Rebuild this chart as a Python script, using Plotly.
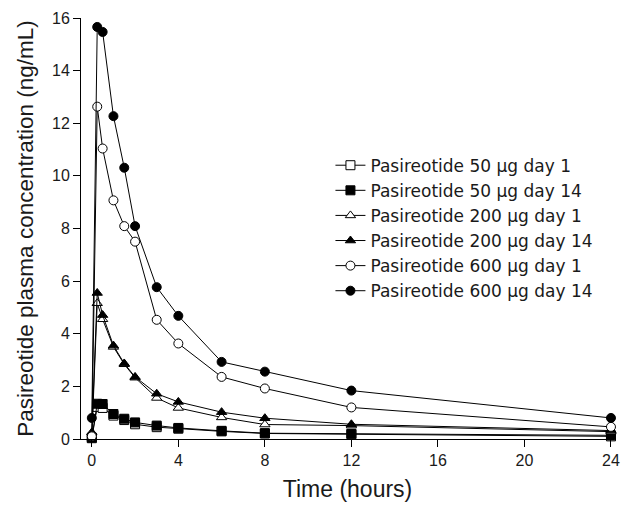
import plotly.graph_objects as go

time_h = [0, 0.25, 0.5, 1, 1.5, 2, 3, 4, 6, 8, 12, 24]

p50_d1 = [0.03, 1.22, 1.18, 0.89, 0.72, 0.56, 0.45, 0.39, 0.29, 0.21, 0.18, 0.10]
p50_d14 = [0.05, 1.34, 1.33, 0.95, 0.77, 0.63, 0.51, 0.42, 0.31, 0.22, 0.20, 0.14]
p200_d1 = [0.05, 5.16, 4.55, 3.50, 2.84, 2.33, 1.56, 1.18, 0.82, 0.55, 0.51, 0.28]
p200_d14 = [0.25, 5.55, 4.71, 3.55, 2.87, 2.36, 1.72, 1.41, 1.02, 0.79, 0.56, 0.32]
p600_d1 = [0.10, 12.63, 11.04, 9.07, 8.09, 7.50, 4.53, 3.63, 2.36, 1.92, 1.20, 0.46]
p600_d14 = [0.80, 15.66, 15.47, 12.27, 10.31, 8.09, 5.77, 4.68, 2.93, 2.56, 1.84, 0.80]

series = [
    ("Pasireotide 50 µg day 1", p50_d1, "square", "white"),
    ("Pasireotide 50 µg day 14", p50_d14, "square", "black"),
    ("Pasireotide 200 µg day 1", p200_d1, "triangle-up", "white"),
    ("Pasireotide 200 µg day 14", p200_d14, "triangle-up", "black"),
    ("Pasireotide 600 µg day 1", p600_d1, "circle", "white"),
    ("Pasireotide 600 µg day 14", p600_d14, "circle", "black"),
]

FONT = "Liberation Sans, Arial, sans-serif"
LEGEND_FONT = "DejaVu Sans, Liberation Sans, sans-serif"

fig = go.Figure()
for name, vals, sym, fill in series:
    fig.add_trace(go.Scatter(
        x=time_h, y=vals, name=name, mode="lines+markers",
        line=dict(color="black", width=1),
        marker=dict(symbol=sym, size=9, color=fill, line=dict(color="black", width=1)),
        cliponaxis=False,
    ))

fig.update_layout(
    width=630, height=507,
    margin=dict(l=81, r=10, t=18, b=64),
    paper_bgcolor="white", plot_bgcolor="white",
    font=dict(family=FONT, color="#1a1a1a"),
    showlegend=True,
    legend=dict(
        x=0.468, y=0.692, xanchor="left", yanchor="top",
        font=dict(size=17, family=LEGEND_FONT, color="#1a1a1a"),
        bgcolor="rgba(0,0,0,0)",
        tracegroupgap=0,
    ),
    xaxis=dict(
        range=[-0.5, 24.14], tickmode="array", tickvals=[0, 4, 8, 12, 16, 20, 24],
        showgrid=False, zeroline=False, showline=True, linecolor="black", linewidth=1,
        ticks="outside", ticklen=7, tickcolor="black",
        tickfont=dict(size=16),
        title=dict(text="Time (hours)", font=dict(size=23), standoff=12),
    ),
    yaxis=dict(
        range=[0, 16], tickmode="array", tickvals=[0, 2, 4, 6, 8, 10, 12, 14, 16],
        showgrid=False, zeroline=False, showline=True, linecolor="black", linewidth=1,
        ticks="outside", ticklen=7, tickcolor="black",
        tickfont=dict(size=16),
        title=dict(text="Pasireotide plasma concentration (ng/mL)", font=dict(size=22.5), standoff=12),
    ),
)

post = (
    "document.documentElement.style.overflow='hidden';"
    "document.body.style.margin='0';"
    "document.body.style.overflow='hidden';"
    "var gd=document.getElementById('{plot_id}');"
    "var w=window.innerWidth||630, h=window.innerHeight||507;"
    "if(w!==630||h!==507){Plotly.relayout(gd,{width:w,height:h});}"
)

fig.write_html("out.html", config={"displayModeBar": False}, post_script=post)
